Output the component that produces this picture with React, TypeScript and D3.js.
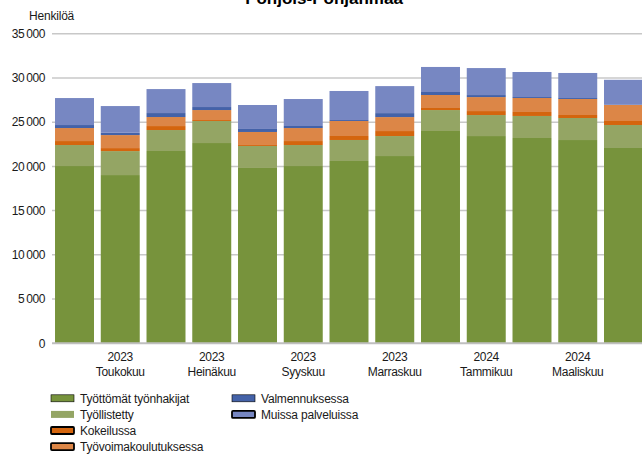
import React from "react";
import * as d3 from "d3";

const months = ["Huhtikuu","Toukokuu","Kesäkuu","Heinäkuu","Elokuu","Syyskuu","Lokakuu","Marraskuu","Joulukuu","Tammikuu","Helmikuu","Maaliskuu","Huhtikuu"];
const years = ["2023","2023","2023","2023","2023","2023","2023","2023","2023","2024","2024","2024","2024"];
const showLabel = [false,true,false,true,false,true,false,true,false,true,false,true,false];

const tyottomat = [20040,19020,21740,22640,19820,20040,20610,21170,24000,23430,23210,22980,22080];
const tyollistetty = [2375,2710,2370,2490,2490,2375,2375,2260,2370,2375,2490,2490,2600];
const kokeilussa = [450,340,450,110,110,450,450,565,230,450,450,340,450];
const koulutus = [1470,1470,1020,1130,1470,1470,1700,1580,1470,1580,1580,1810,1810];
const valmennus = [340,260,450,340,340,230,110,450,340,230,110,110,20];
const muissa = [3050,3020,2710,2710,2710,3050,3280,3050,2830,3050,2830,2830,2830];

const seriesNames = ["Työttömät työnhakijat","Työllistetty","Kokeilussa","Työvoimakoulutuksessa","Valmennuksessa","Muissa palveluissa"];
const seriesColors = ["#77933c","#94a564","#d4650e","#dc8647","#4462a8","#7787c2"];
const yTicks = [0,5000,10000,15000,20000,25000,30000,35000];

export default function App() {
  const W = 642, H = 454;
  const font = "'Liberation Sans', Arial, sans-serif";
  const x = d3.scaleBand<number>().domain(d3.range(months.length)).range([52, 646]).paddingInner(0.148).paddingOuter(0.066);
  const y = d3.scaleLinear().domain([0, 35000]).range([343.3, 33.7]);
  const seriesData = [tyottomat, tyollistetty, kokeilussa, koulutus, valmennus, muissa];
  const rows = months.map((_, i) => {
    const o: any = { i };
    seriesData.forEach((s, k) => (o["s" + k] = s[i]));
    return o;
  });
  const stack = d3.stack().keys(seriesData.map((_, k) => "s" + k))(rows as any);
  const fmt = (v: number) => d3.format(",")(v).replace(/,/g, "\u2009");

  const legend = [
    { k: 0, col: 0, row: 0, stroke: "thin" },
    { k: 1, col: 0, row: 1, stroke: "none" },
    { k: 2, col: 0, row: 2, stroke: "thick" },
    { k: 3, col: 0, row: 3, stroke: "thick" },
    { k: 4, col: 1, row: 0, stroke: "thin" },
    { k: 5, col: 1, row: 1, stroke: "thick" },
  ];

  return (
    <svg width={W} height={H} style={{ position: "absolute", left: 0, top: 0, background: "#fff" }} fontFamily={font}>
      <text x={324} y={3.5} textAnchor="middle" fontWeight="bold" fontSize={17} fill="#000">Pohjois-Pohjanmaa</text>
      <text x={29} y={20} fontSize={12} fill="#1a1a1a" letterSpacing={-0.2}>Henkilöä</text>
      {yTicks.map((t) => (
        <g key={t}>
          {t > 0 && <line x1={52} x2={W} y1={y(t)} y2={y(t)} stroke="#c8c8c8" strokeWidth={1.5} />}
          <text x={45} y={y(t)} dy="0.35em" textAnchor="end" fontSize={12} fill="#1a1a1a" letterSpacing={-0.4}>{fmt(t)}</text>
        </g>
      ))}
      {stack.map((layer, k) => (
        <g key={k} fill={seriesColors[k]}>
          {layer.map((d, i) => (
            <rect key={i} x={x(i)} width={x.bandwidth()} y={y(d[1])} height={Math.max(0, y(d[0]) - y(d[1]))} />
          ))}
        </g>
      ))}
      <line x1={52} x2={W} y1={y(0)} y2={y(0)} stroke="#bfbfbf" strokeWidth={2} />
      {months.map((m, i) =>
        showLabel[i] ? (
          <g key={i} fontSize={12} fill="#1a1a1a" textAnchor="middle" letterSpacing={-0.3}>
            <text x={(x(i) as number) + x.bandwidth() / 2} y={360.5}>{years[i]}</text>
            <text x={(x(i) as number) + x.bandwidth() / 2} y={376}>{m}</text>
          </g>
        ) : null
      )}
      {legend.map((l) => {
        const sx = l.col === 0 ? 51 : 232;
        const cy = 398.3 + l.row * 16.1;
        return (
          <g key={l.k}>
            <rect x={sx} y={cy - 3.5} width={23} height={7} fill={seriesColors[l.k]}
              stroke={l.stroke === "none" ? "none" : "#000"} strokeWidth={l.stroke === "thick" ? 1.8 : 0.6} rx={l.stroke === "thick" ? 1 : 0} />
            <text x={sx + 29} y={cy} dy="0.35em" fontSize={12} fill="#1a1a1a" letterSpacing={-0.2}>{seriesNames[l.k]}</text>
          </g>
        );
      })}
    </svg>
  );
}
